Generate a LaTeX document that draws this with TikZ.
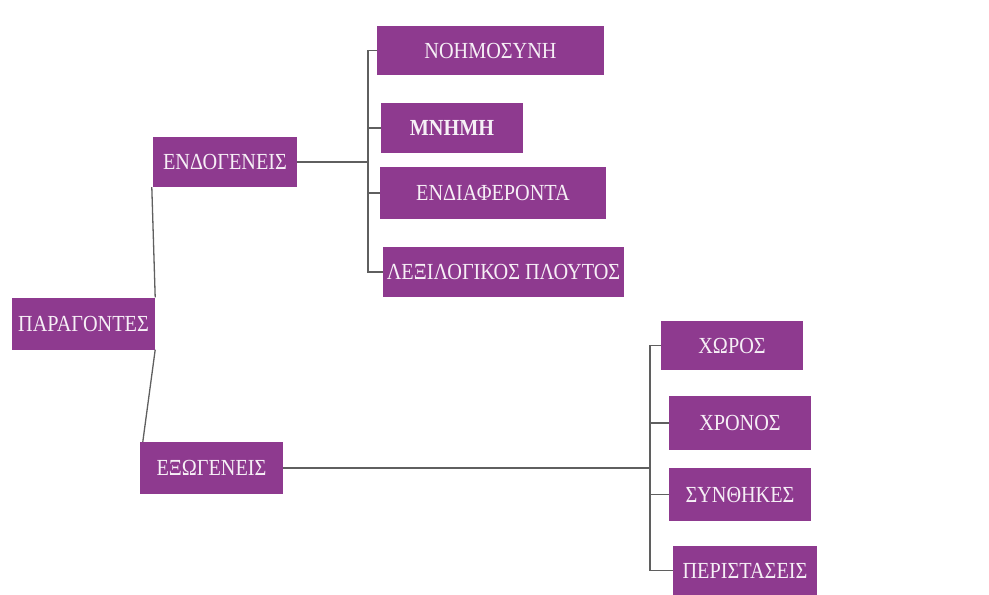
\documentclass[tikz,border=0pt]{standalone}
\usepackage{fontspec}
\setmainfont[FakeStretch=0.88]{Liberation Serif}
\usepackage{tikz}
\usetikzlibrary{arrows, positioning}
\definecolor{boxpurple}{RGB}{142,58,143}
\definecolor{linegray}{RGB}{95,95,95}

\begin{document}
\begin{tikzpicture}[x=1pt,y=-1pt,
box/.style ={rectangle, fill=boxpurple, text=white!92!boxpurple, inner sep=0pt,
font=\fontsize{23}{27}\selectfont, minimum height=50}]

    \useasboundingbox (0,0) rectangle (989,595);

    \node[box, minimum width=143, minimum height=52] (PAR) at (83.5,323.5) {ΠΑΡΑΓΟΝΤΕΣ};
    \node[box, minimum width=144] (ENDO) at (225,162) {ΕΝΔΟΓΕΝΕΙΣ};
    \node[box, minimum width=143, minimum height=52] (EXO) at (211.5,468) {ΕΞΩΓΕΝΕΙΣ};

    \node[box, minimum width=227, minimum height=49] (N1) at (490.5,50.5) {ΝΟΗΜΟΣΥΝΗ};
    \node[box, minimum width=142, font=\fontsize{23}{27}\selectfont\bfseries] (N2) at (452,128) {ΜΝΗΜΗ};
    \node[box, minimum width=226, minimum height=52] (N3) at (493,193) {ΕΝΔΙΑΦΕΡΟΝΤΑ};
    \node[box, minimum width=241] (N4) at (503.5,272) {ΛΕΞΙΛΟΓΙΚΟΣ ΠΛΟΥΤΟΣ};

    \node[box, minimum width=142, minimum height=49] (X1) at (732,345.5) {ΧΩΡΟΣ};
    \node[box, minimum width=142, minimum height=54] (X2) at (740,423) {ΧΡΟΝΟΣ};
    \node[box, minimum width=142, minimum height=53] (X3) at (740,494.5) {ΣΥΝΘΗΚΕΣ};
    \node[box, minimum width=144, minimum height=49] (X4) at (745,570.5) {ΠΕΡΙΣΤΑΣΕΙΣ};

    \coordinate (T1) at (368,162);
    \coordinate (T2) at (650,468);

    \tikzset{link/.style={draw=linegray, line width=1.3pt}}
    \path (PAR.north east) edge [link] ([xshift=-1]ENDO.south west);
    \path (PAR.south east) edge [link] ([xshift=3]EXO.north west);
    \foreach \n in {N1,N2,N3,N4}
        \draw[link] (ENDO.east) -- (T1) |- (\n.west);
    \foreach \n in {X1,X2,X3,X4}
        \draw[link] (EXO.east) -- (T2) |- (\n.west);

\end{tikzpicture}
\end{document}
